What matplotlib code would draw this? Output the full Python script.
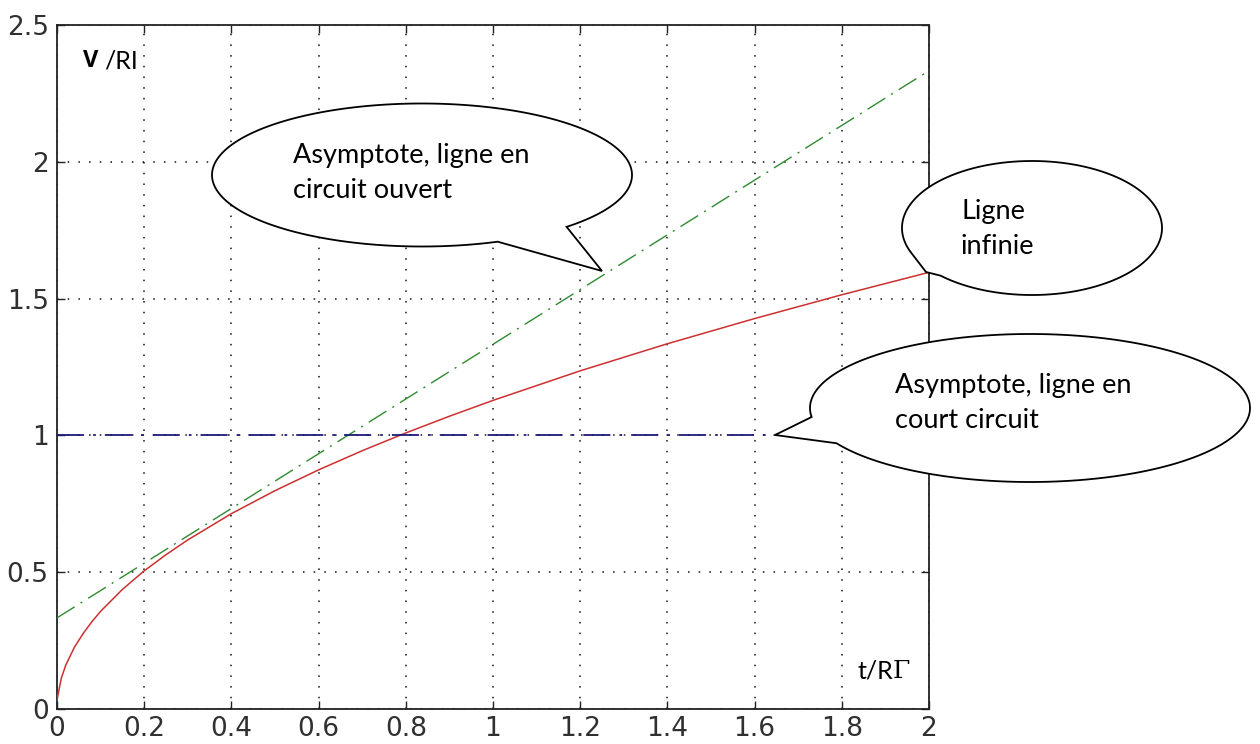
import matplotlib
matplotlib.use("Agg")
import numpy as np
import matplotlib.pyplot as plt
from matplotlib.patches import Polygon

# ---- data ----
t_inf = [0.0, 0.002, 0.01, 0.02, 0.04, 0.06, 0.08, 0.10, 0.15, 0.20, 0.25, 0.30,
         0.40, 0.50, 0.60, 0.70, 0.80, 0.90, 1.00, 1.20, 1.40, 1.60, 1.80, 2.00]
v_inf = [0.03, 0.050, 0.113, 0.160, 0.226, 0.276, 0.319, 0.357, 0.437, 0.505, 0.564, 0.618,
         0.714, 0.798, 0.874, 0.944, 1.009, 1.070, 1.128, 1.236, 1.335, 1.427, 1.514, 1.596]
t_open = [0.0, 2.0]
v_open = [0.333, 2.333]
t_short = [0.0, 2.0]
v_short = [1.0, 1.0]

x_ticks = [0, 0.2, 0.4, 0.6, 0.8, 1.0, 1.2, 1.4, 1.6, 1.8, 2.0]
x_labels = ["0", "0.2", "0.4", "0.6", "0.8", "1", "1.2", "1.4", "1.6", "1.8", "2"]
y_ticks = [0, 0.5, 1.0, 1.5, 2.0, 2.5]
y_labels = ["0", "0.5", "1", "1.5", "2", "2.5"]

callout_texts = [["Asymptote, ligne en", "circuit ouvert"],
                 ["Ligne", "infinie"],
                 ["Asymptote, ligne en", "court circuit"]]

W, H = 1260, 744
fig = plt.figure(figsize=(W / 100, H / 100), dpi=100)
L, R, T, B = 57, 929, 25, 709
ax = fig.add_axes([L / W, (H - B) / H, (R - L) / W, (B - T) / H])

ax.plot(t_inf, v_inf, color="#cc3030", lw=1.1, zorder=3)
ax.plot(t_open, v_open, color="#2f8a2f", lw=1.0, linestyle=(0, (15, 5, 1.5, 5)), zorder=3)
ax.plot(t_short, v_short, color="#1c1c78", lw=1.3, linestyle=(0, (15, 5, 1.5, 5)), zorder=3)

ax.set_xlim(0, 2)
ax.set_ylim(0, 2.5)
ax.set_xticks(x_ticks)
ax.set_xticklabels(x_labels)
ax.set_yticks(y_ticks)
ax.set_yticklabels(y_labels)
ax.tick_params(direction="in", length=6, width=1.0, top=True, right=True,
               labelsize=19, labelcolor="#303030", colors="#222222")
ax.tick_params(axis="x", pad=5)
ax.tick_params(axis="y", pad=6)
for s in ax.spines.values():
    s.set_linewidth(1.3)
    s.set_color("#222222")
ax.grid(True, color="#111111", linestyle=(0, (1, 6)), lw=1.1)

# overlay in pixel coordinates for annotations
ov = fig.add_axes([0, 0, 1, 1])
ov.set_xlim(0, W)
ov.set_ylim(H, 0)
ov.axis("off")

tf = "Lato"
ov.text(83, 61, "V", fontsize=17, fontweight="bold", family="Open Sans",
        ha="left", va="center")
ov.text(104, 61, "/RI", fontsize=18, family=tf, ha="left", va="center")
ov.text(857, 671, "t/R", fontsize=18, family=tf, ha="left", va="center")
ov.text(893, 671, "\u0393", fontsize=18, family="DejaVu Serif", ha="left", va="center")

callouts = [
    dict(c=(422, 175), w=420, h=143, b1=(567, 227), tip=(602, 271), b2=(498, 242),
         tx=293, ty=(156, 191)),
    dict(c=(1032, 228), w=260, h=134, b1=(913, 253), tip=(926, 272), b2=(942, 275),
         tx=961, ty=(211, 247)),
    dict(c=(1030, 408), w=440, h=148, b1=(812, 417), tip=(775, 435), b2=(838, 443),
         tx=895, ty=(386, 421)),
]
TWO_PI = 2 * np.pi
for co, lines in zip(callouts, callout_texts):
    cx, cy = co["c"]
    a, b = co["w"] / 2, co["h"] / 2
    ang = lambda p: np.arctan2((p[1] - cy) / b, (p[0] - cx) / a)
    a1, a2, at = ang(co["b1"]), ang(co["b2"]), ang(co["tip"])
    d = (a2 - a1) % TWO_PI
    if ((at - a1) % TWO_PI) < d:
        start, span = a2, TWO_PI - d
    else:
        start, span = a1, d
    th = start + np.linspace(0, span, 400)
    pts = np.column_stack([cx + a * np.cos(th), cy + b * np.sin(th)])
    pts = np.vstack([pts, [co["tip"]]])
    ov.add_patch(Polygon(pts, closed=True, facecolor="white", edgecolor="black",
                         lw=1.3, joinstyle="miter", zorder=5))
    for line, y in zip(lines, co["ty"]):
        ov.text(co["tx"], y, line, fontsize=19.5, family=tf, ha="left", va="center",
                zorder=8)

fig.savefig("out.png", dpi=100)
